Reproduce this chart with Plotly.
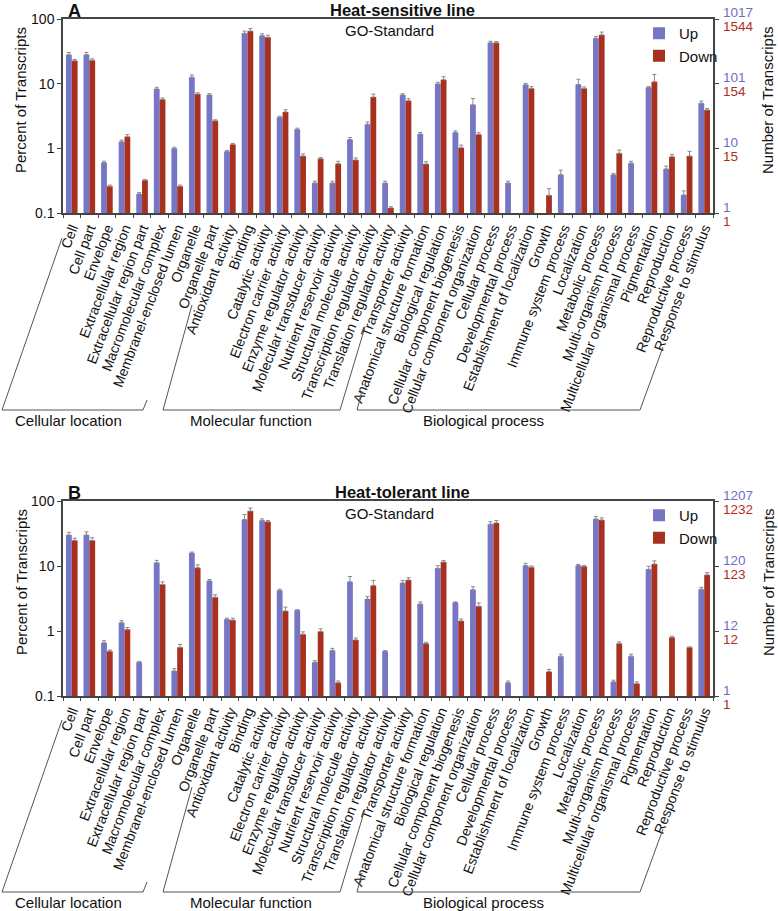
import plotly.graph_objects as go

W, H = 778, 911

categories = [
    "Cell", "Cell part", "Envelope", "Extracellular region", "Extracellular region part",
    "Macromolecular complex", "Membranel-enclosed lumen", "Organelle", "Organelle part",
    "Antioxidant activity", "Binding", "Catalytic activity", "Electron carrier activity",
    "Enzyme regulator activity", "Molecular transducer activity", "Nutrient reservoir activity",
    "Structural molecule activity", "Transcription regulator activity",
    "Translation regulator activity", "Transporter activity",
    "Anatomical structure formation", "Biological regulation", "Cellular component biogenesis",
    "Cellular component organization", "Cellular process", "Developmental process",
    "Establishment of localization", "Growth", "Immune system process", "Localization",
    "Metabolic process", "Multi-organism process", "Multicellular organismal process",
    "Pigmentation", "Reproduction", "Reproductive process", "Response to stimulus",
]

# Panel A: Heat-sensitive line (percent of transcripts)
a_up = [28, 28, 0.6, 1.26, 0.197, 8.3, 0.99, 12.6, 6.7,
        0.89, 60, 55, 3.03, 1.95, 0.29, 0.29, 1.37, 2.35, 0.29, 6.7,
        1.66, 9.9, 1.76, 4.7, 42.8, 0.29, 9.6, None, 0.39, 9.7,
        50.5, 0.39, 0.59, 8.7, 0.48, 0.19, 4.97]
a_down = [22.6, 23, 0.26, 1.51, 0.32, 5.7, 0.26, 6.9, 2.66,
          1.15, 65, 52, 3.65, 0.76, 0.69, 0.58, 0.66, 6.2, 0.12, 5.45,
          0.57, 11.5, 1.02, 1.64, 42.8, None, 8.4, 0.188, None, 8.4,
          56.8, 0.84, None, 10.7, 0.74, 0.76, 3.92]
a_up_err = [2.4, 2.4, 0.03, 0.08, 0.01, 0.5, 0.05, 1.0, 0.3,
            0.04, 5, 4, 0.1, 0.1, 0.02, 0.02, 0.1, 0.2, 0.02, 0.3,
            0.1, 0.6, 0.1, 1.2, 2.5, 0.02, 0.5, 0, 0.07, 2.0,
            3.5, 0.02, 0.04, 0.3, 0.05, 0.03, 0.4]
a_down_err = [1.0, 1.2, 0.01, 0.12, 0.01, 0.3, 0.01, 0.3, 0.1,
              0.04, 6, 4, 0.3, 0.06, 0.03, 0.05, 0.05, 0.7, 0.005, 0.4,
              0.05, 1.3, 0.1, 0.1, 2.0, 0, 0.6, 0.05, 0, 0.5,
              6, 0.1, 0, 3.2, 0.06, 0.14, 0.2]

# Panel B: Heat-tolerant line
b_up = [30, 30, 0.66, 1.34, 0.33, 11.2, 0.243, 15.8, 5.9,
        1.51, 52, 50, 4.2, 2.08, 0.33, 0.5, 5.7, 3.1, 0.49, 5.5,
        2.6, 9.2, 2.75, 4.3, 44, 0.16, 10.2, None, 0.41, 10.2,
        53, 0.165, 0.41, 8.9, None, None, 4.4]
b_down = [24.7, 24.7, 0.49, 1.05, None, 5.2, 0.56, 9.4, 3.3,
          1.47, 70, 48, 2.03, 0.89, 0.98, 0.16, 0.73, 5.0, None, 6.1,
          0.64, 11.5, 1.43, 2.4, 46, None, 9.6, 0.237, None, 9.8,
          51, 0.64, 0.155, 10.7, 0.8, 0.56, 7.3]
b_up_err = [3, 3.5, 0.05, 0.1, 0.01, 1.0, 0.02, 0.6, 0.3,
            0.06, 10, 3, 0.2, 0.05, 0.02, 0.04, 1.2, 0.3, 0.01, 0.5,
            0.2, 0.9, 0.05, 0.5, 4, 0.01, 0.8, 0, 0.03, 0.4,
            5, 0.01, 0.03, 1.0, 0, 0, 0.3]
b_down_err = [2, 2.5, 0.02, 0.08, 0, 0.5, 0.06, 1.0, 0.3,
              0.1, 8, 2, 0.3, 0.08, 0.1, 0.01, 0.05, 1.0, 0, 0.5,
              0.03, 0.6, 0.1, 0.3, 4, 0, 0.4, 0.02, 0, 0.4,
              4, 0.04, 0.01, 1.3, 0.03, 0.01, 0.6]

a_right_up = ["1017", "101", "10", "1"]
a_right_down = ["1544", "154", "15", "1"]
b_right_up = ["1207", "120", "12", "1"]
b_right_down = ["1232", "123", "12", "1"]

groups = ["Cellular location", "Molecular function", "Biological process"]

BLUE = "#7676C4"
RED = "#A8301F"
GREY_ERR = "#8a8a8a"
FONT = "Liberation Sans, Arial, sans-serif"


def px(x):
    return x / W


def py(y):
    return 1 - y / H


fig = go.Figure()

panels = [
    dict(up=a_up, down=a_down, ue=a_up_err, de=a_down_err, xa="x", ya="y", leg="legend"),
    dict(up=b_up, down=b_down, ue=b_up_err, de=b_down_err, xa="x2", ya="y2", leg="legend2"),
]
for p in panels:
    for name, vals, errs, col in [("Up", p["up"], p["ue"], BLUE), ("Down", p["down"], p["de"], RED)]:
        fig.add_trace(go.Bar(
            x=categories, y=vals, name=name, marker=dict(color=col, line=dict(width=0)),
            error_y=dict(type="data", array=errs, arrayminus=[0] * len(errs), symmetric=False,
                         color=GREY_ERR, thickness=1, width=2),
            xaxis=p["xa"], yaxis=p["ya"], legend=p["leg"],
        ))

xdom = [px(63), px(713)]
ydomA = [py(213), py(19)]
ydomB = [py(696), py(501)]

xcommon = dict(type="category", tickangle=-69, tickfont=dict(size=14, color="#111", family=FONT),
               showline=True, linecolor="#444", linewidth=1.5, mirror=True,
               ticks="outside", ticklen=3, tickcolor="#444", tickson="boundaries",
               domain=xdom, automargin=False, showgrid=False)
ycommon = dict(type="log", range=[-1, 2], tickvals=[0.1, 1, 10, 100], ticktext=["0.1", "1", "10", "100"],
               tickfont=dict(size=14, color="#111", family=FONT),
               showline=True, linecolor="#444", linewidth=1.5, mirror="ticks",
               ticks="outside", ticklen=4, tickcolor="#444", showgrid=False, zeroline=False,
               automargin=False)

fig.update_layout(
    width=W, height=H, margin=dict(l=0, r=0, t=0, b=0),
    paper_bgcolor="white", plot_bgcolor="white",
    barmode="group", bargap=0.34, bargroupgap=0,
    font=dict(family=FONT, color="#111"),
    xaxis=dict(**xcommon, anchor="y"),
    yaxis=dict(**ycommon, domain=ydomA, anchor="x"),
    xaxis2=dict(**xcommon, anchor="y2"),
    yaxis2=dict(**ycommon, domain=ydomB, anchor="x2"),
    legend=dict(x=px(639), y=py(17), xanchor="left", yanchor="top", bgcolor="rgba(0,0,0,0)",
                font=dict(size=15, family=FONT), tracegroupgap=0, itemwidth=30),
    legend2=dict(x=px(639), y=py(499), xanchor="left", yanchor="top", bgcolor="rgba(0,0,0,0)",
                 font=dict(size=15, family=FONT), tracegroupgap=0, itemwidth=30),
    showlegend=True,
)

ann = []
shapes = []
for off, yax, letter, title, rup, rdown in [
    (0, "y", "A", "Heat-sensitive line", a_right_up, a_right_down),
    (482, "y2", "B", "Heat-tolerant line", b_right_up, b_right_down),
]:
    ann.append(dict(text="<b>%s</b>" % letter, x=px(66), y=py(11 + off), xref="paper", yref="paper",
                    xanchor="left", yanchor="middle", showarrow=False, font=dict(size=18, family=FONT)))
    ann.append(dict(text="<b>%s</b>" % title, x=px(402), y=py(10 + off), xref="paper", yref="paper",
                    xanchor="center", yanchor="middle", showarrow=False, font=dict(size=16.5, family=FONT)))
    ann.append(dict(text="GO-Standard", x=px(389), y=py(31 + off), xref="paper", yref="paper",
                    xanchor="center", yanchor="middle", showarrow=False, font=dict(size=15, family=FONT)))
    ann.append(dict(text="Percent of Transcripts", x=px(21), y=py(100 + off), xref="paper", yref="paper",
                    xanchor="center", yanchor="middle", textangle=-90, showarrow=False,
                    font=dict(size=15, family=FONT)))
    ann.append(dict(text="Number of Transcripts", x=px(768), y=py(100 + off), xref="paper", yref="paper",
                    xanchor="center", yanchor="middle", textangle=-90, showarrow=False,
                    font=dict(size=15, family=FONT)))
    for i, (tu, td) in enumerate(zip(rup, rdown)):
        lv = 2 - i
        ann.append(dict(text=tu, x=px(721), y=lv, xref="paper", yref=yax, xanchor="left", yanchor="middle",
                        yshift=6, showarrow=False, font=dict(size=13.5, color="#6E6EC8", family=FONT)))
        ann.append(dict(text=td, x=px(721), y=lv, xref="paper", yref=yax, xanchor="left", yanchor="middle",
                        yshift=-8, showarrow=False, font=dict(size=13.5, color="#B0301E", family=FONT)))
    # group brackets
    brackets = [
        [(62, 238), (2, 410), (143, 410), (147, 400)],
        [(192, 305), (163, 410), (340, 410), (365, 327)],
        [(362, 391), (357, 410), (640, 410), (663, 347)],
    ]
    for pts in brackets:
        path = "M " + " L ".join("%f,%f" % (px(x), py(y + off)) for x, y in pts)
        shapes.append(dict(type="path", path=path, xref="paper", yref="paper",
                           line=dict(color="#555", width=1)))
    for g, cx in zip(groups, [68, 251, 483]):
        ann.append(dict(text=g, x=px(cx), y=py(420 + off), xref="paper", yref="paper",
                        xanchor="center", yanchor="middle", showarrow=False,
                        font=dict(size=15, family=FONT)))

fig.update_layout(annotations=ann, shapes=shapes)
fig.write_html("out.html", config={"displayModeBar": False},
               post_script="document.body.style.margin='0';document.body.style.padding='0';")
